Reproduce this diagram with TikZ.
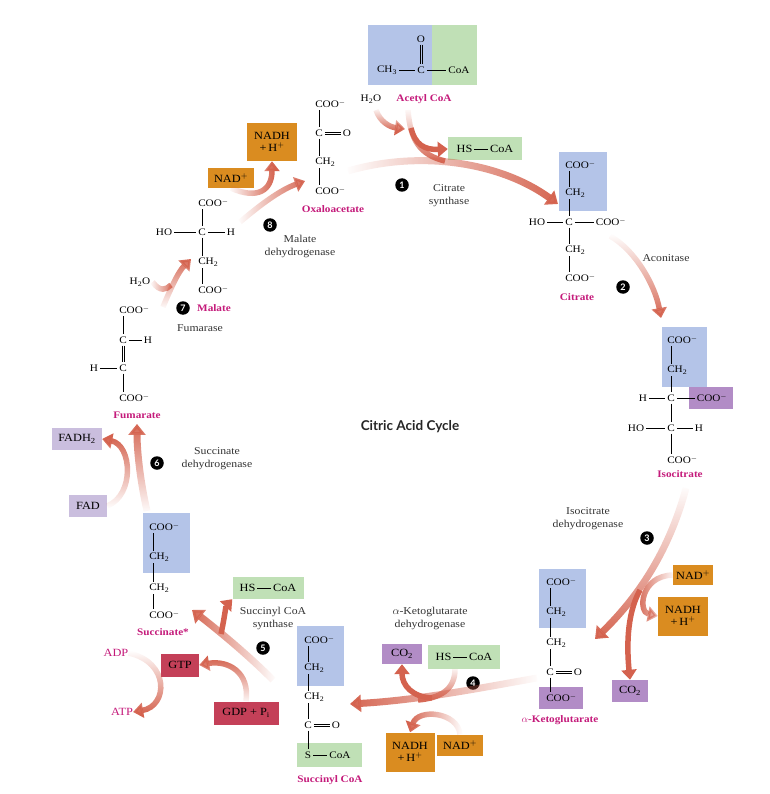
\documentclass[tikz,border=0pt]{standalone}
\usepackage{fontspec}
\setmainfont{Liberation Serif}[FakeStretch=1.12]
\setsansfont{Lato}
\usetikzlibrary{arrows.meta,fadings}

\definecolor{arrowc}{RGB}{212,98,78}
\definecolor{bluefill}{RGB}{180,196,232}
\definecolor{greenfill}{RGB}{192,224,182}
\definecolor{purplefill}{RGB}{178,140,198}
\definecolor{lavfill}{RGB}{202,190,222}
\definecolor{orangefill}{RGB}{218,140,32}
\definecolor{redfill}{RGB}{196,64,88}
\definecolor{namec}{RGB}{196,26,122}

\newcommand\coo{C\rlap{OO$^-$}}
\newcommand\chtwo{C\rlap{H\textsubscript{2}}}
\newcommand\bondrule{\,\rule[0.6ex]{14pt}{0.5pt}\,}
% double bonds, drawn as two thin lines
\newcommand\hdbond[2]{%
  \draw[bond] ([yshift=1.2pt]#1.east) -- ([yshift=1.2pt]#2.west);
  \draw[bond] ([yshift=-1.2pt]#1.east) -- ([yshift=-1.2pt]#2.west);}
\newcommand\vdbond[2]{%
  \draw[bond] ([xshift=1.2pt]#1.south) -- ([xshift=1.2pt]#2.north);
  \draw[bond] ([xshift=-1.2pt]#1.south) -- ([xshift=-1.2pt]#2.north);}

\tikzset{
  atom/.style={inner sep=2pt, font=\fontsize{10}{11}\selectfont},
  bond/.style={line width=0.5pt},
  molname/.style={text=namec, font=\fontsize{10}{11}\selectfont\bfseries},
  enzyme/.style={align=center, font=\fontsize{10.5}{13}\selectfont, text=black!80},
  stepnum/.style={circle, fill=black, text=white, inner sep=0pt, minimum size=13.5pt, font=\sffamily\bfseries\fontsize{9}{9}\selectfont},
  cofactor/.style={inner sep=0pt, align=center, font=\fontsize{11}{12}\selectfont},
  flow/.style={draw=arrowc, line width=5.5pt, -{Triangle[length=10pt,width=15pt]}},
  bigflow/.style={flow, line width=7pt, -{Triangle[length=11pt,width=17pt]}},
  joinflow/.style={draw=arrowc, line width=5.5pt, path fading=#1},
}

\begin{document}
\begin{tikzpicture}[x=1pt,y=-1pt]
\useasboundingbox (0,0) rectangle (769,794);
%\draw[help lines,step=50] (0,0) grid (769,794);

% acetyl CoA
\fill[bluefill] (368,25) rectangle (432,85);
\fill[greenfill] (432,25) rectangle (477,85);
\node[atom] (acc) at (421,70) {C};
\node[atom] (acch) at (387,70) {CH\textsubscript{3}};
\node[atom] (acco) at (459,70) {CoA};
\node[atom] (aco) at (421,39) {O};
\draw[bond] (acch) -- (acc);
\draw[bond] (acc) -- (acco);
\vdbond{aco}{acc}
\node[atom] (wat1) at (371,99) {H\textsubscript{2}O};
\node[molname] (acname) at (424,99) {Acetyl CoA};
\node[cofactor, fill=greenfill, minimum width=74pt, minimum height=23pt] (hsa) at (485,149) {HS\bondrule CoA};

% oxaloacetate
\node[atom] (oa1) at (319,104) {\coo};
\node[atom] (oa2) at (319,133) {C};
\node[atom] (oao) at (347,133) {O};
\node[atom] (oa3) at (319,162) {\chtwo};
\node[atom] (oa4) at (319,191) {\coo};
\draw[bond] (oa1) -- (oa2);
\hdbond{oa2}{oao}
\draw[bond] (oa2) -- (oa3);
\draw[bond] (oa3) -- (oa4);
\node[molname] (oaname) at (333,209) {Oxaloacetate};

% citrate
\fill[bluefill] (559,152) rectangle (607,211);
\node[atom] (ci1) at (569,165) {\coo};
\node[atom] (ci2) at (569,193) {\chtwo};
\node[atom] (ci3) at (569,222) {C};
\node[atom] (ciho) at (537,222) {HO};
\node[atom] (cir) at (611,222) {COO$^-$};
\node[atom] (ci4) at (569,250) {\chtwo};
\node[atom] (ci5) at (569,278) {\coo};
\draw[bond] (ci1) -- (ci2);
\draw[bond] (ci2) -- (ci3);
\draw[bond] (ciho) -- (ci3);
\draw[bond] (ci3) -- (cir);
\draw[bond] (ci3) -- (ci4);
\draw[bond] (ci4) -- (ci5);
\node[molname] (ciname) at (577,297) {Citrate};

% isocitrate
\fill[bluefill] (662,327) rectangle (707,387);
\fill[purplefill] (689,387) rectangle (733,409);
\node[atom] (ic1) at (671,340) {\coo};
\node[atom] (ic2) at (671,370) {\chtwo};
\node[atom] (ic3) at (671,398) {C};
\node[atom] (ich) at (643,398) {H};
\node[atom] (icr) at (712,398) {COO$^-$};
\node[atom] (ic4) at (671,428) {C};
\node[atom] (icho) at (636,428) {HO};
\node[atom] (ich2) at (699,428) {H};
\node[atom] (ic5) at (671,460) {\coo};
\draw[bond] (ic1) -- (ic2);
\draw[bond] (ic2) -- (ic3);
\draw[bond] (ich) -- (ic3);
\draw[bond] (ic3) -- (icr);
\draw[bond] (ic3) -- (ic4);
\draw[bond] (icho) -- (ic4);
\draw[bond] (ic4) -- (ich2);
\draw[bond] (ic4) -- (ic5);
\node[molname] (icname) at (680,474) {Isocitrate};

% alpha-ketoglutarate
\fill[bluefill] (539,569) rectangle (586,628);
\fill[purplefill] (539,687) rectangle (583,709);
\node[atom] (kg1) at (550,582) {\coo};
\node[atom] (kg2) at (550,612) {\chtwo};
\node[atom] (kg3) at (550,643) {\chtwo};
\node[atom] (kg4) at (550,672) {C};
\node[atom] (kgo) at (578,672) {O};
\node[atom] (kg5) at (550,698) {\coo};
\draw[bond] (kg1) -- (kg2);
\draw[bond] (kg2) -- (kg3);
\draw[bond] (kg3) -- (kg4);
\hdbond{kg4}{kgo}
\draw[bond] (kg4) -- (kg5);
\node[molname] (kgname) at (560,720) {$\alpha$-Ketoglutarate};

% succinyl CoA
\fill[bluefill] (297,626) rectangle (344,686);
\fill[greenfill] (297,743) rectangle (362,767);
\node[atom] (sc1) at (308,640) {\coo};
\node[atom] (sc2) at (308,668) {\chtwo};
\node[atom] (sc3) at (308,697) {\chtwo};
\node[atom] (sc4) at (308,725) {C};
\node[atom] (sco) at (336,725) {O};
\node[atom] (sc5) at (308,755) {S};
\node[atom] (scoa) at (340,755) {CoA};
\draw[bond] (sc1) -- (sc2);
\draw[bond] (sc2) -- (sc3);
\draw[bond] (sc3) -- (sc4);
\hdbond{sc4}{sco}
\draw[bond] (sc4) -- (sc5);
\draw[bond] (sc5) -- (scoa);
\node[molname] (scname) at (330,780) {Succinyl CoA};

% succinate
\fill[bluefill] (143,513) rectangle (190,573);
\node[atom] (su1) at (153,527) {\coo};
\node[atom] (su2) at (153,557) {\chtwo};
\node[atom] (su3) at (153,588) {\chtwo};
\node[atom] (su4) at (153,615) {\coo};
\draw[bond] (su1) -- (su2);
\draw[bond] (su2) -- (su3);
\draw[bond] (su3) -- (su4);
\node[molname] (suname) at (163,632) {Succinate*};

% fumarate
\node[atom] (fu1) at (123,310) {\coo};
\node[atom] (fu2) at (123,340) {C};
\node[atom] (fuh1) at (148,340) {H};
\node[atom] (fu3) at (123,368) {C};
\node[atom] (fuh2) at (94,368) {H};
\node[atom] (fu4) at (123,398) {\coo};
\draw[bond] (fu1) -- (fu2);
\draw[bond] (fu2) -- (fuh1);
\vdbond{fu2}{fu3}
\draw[bond] (fuh2) -- (fu3);
\draw[bond] (fu3) -- (fu4);
\node[molname] (funame) at (137,415) {Fumarate};

% malate
\node[atom] (ma1) at (202,203) {\coo};
\node[atom] (ma2) at (202,232) {C};
\node[atom] (maho) at (164,232) {HO};
\node[atom] (mah) at (231,232) {H};
\node[atom] (ma3) at (202,262) {\chtwo};
\node[atom] (ma4) at (202,290) {\coo};
\draw[bond] (ma1) -- (ma2);
\draw[bond] (maho) -- (ma2);
\draw[bond] (ma2) -- (mah);
\draw[bond] (ma2) -- (ma3);
\draw[bond] (ma3) -- (ma4);
\node[molname] (maname) at (214,308) {Malate};
\node[atom] (wat7) at (140,282) {H\textsubscript{2}O};

% cofactors
\node[cofactor, fill=orangefill, minimum width=50pt, minimum height=38pt] (nadh8) at (272,142) {NADH\\+\,H$^+$};
\node[cofactor, fill=orangefill, minimum width=46pt, minimum height=20pt] (nad8) at (231,178) {NAD$^+$};
\node[cofactor, fill=lavfill, minimum width=50pt, minimum height=22pt] (fadh) at (77,439) {FADH\textsubscript{2}};
\node[cofactor, fill=lavfill, minimum width=38pt, minimum height=22pt] (fad) at (88,506) {FAD};
\node[cofactor, fill=greenfill, minimum width=71pt, minimum height=22pt] (hsb) at (268,588) {HS\bondrule CoA};
\node[cofactor, fill=redfill, minimum width=38pt, minimum height=23pt] (gtp) at (180,665) {GTP};
\node[cofactor, fill=redfill, minimum width=65pt, minimum height=23pt] (gdp) at (246,713) {GDP + P$_\mathrm{i}$};
\node[cofactor, text=namec] (adp) at (116,653) {ADP};
\node[cofactor, text=namec] (atp) at (122,712) {ATP};
\node[cofactor, fill=purplefill, minimum width=40pt, minimum height=20pt] (co2d) at (402,654) {CO\textsubscript{2}};
\node[cofactor, fill=greenfill, minimum width=72pt, minimum height=24pt] (hsc) at (464,657) {HS\bondrule CoA};
\node[cofactor, fill=orangefill, minimum width=49pt, minimum height=39pt] (nadh4) at (410,752) {NADH\\+\,H$^+$};
\node[cofactor, fill=orangefill, minimum width=46pt, minimum height=21pt] (nad4) at (460,745) {NAD$^+$};
\node[cofactor, fill=purplefill, minimum width=36pt, minimum height=22pt] (co2c) at (630,691) {CO\textsubscript{2}};
\node[cofactor, fill=orangefill, minimum width=40pt, minimum height=20pt] (nad3) at (693,575) {NAD$^+$};
\node[cofactor, fill=orangefill, minimum width=50pt, minimum height=39pt] (nadh3) at (683,616) {NADH\\+\,H$^+$};

% enzymes and steps
\node[stepnum] (s1) at (402,185) {1};
\node[enzyme] (e1) at (449,196) {Citrate\\synthase};
\node[stepnum] (s2) at (623,287) {2};
\node[enzyme] (e2) at (666,258) {Aconitase};
\node[stepnum] (s3) at (647,538) {3};
\node[enzyme] (e3) at (588,519) {Isocitrate\\dehydrogenase};
\node[stepnum] (s4) at (473,683) {4};
\node[enzyme] (e4) at (430,618) {$\alpha$-Ketoglutarate\\dehydrogenase};
\node[stepnum] (s5) at (263,648) {5};
\node[enzyme] (e5) at (273,618) {Succinyl CoA\\synthase};
\node[stepnum] (s6) at (157,463) {6};
\node[enzyme] (e6) at (217,459) {Succinate\\dehydrogenase};
\node[stepnum] (s7) at (183,308) {7};
\node[enzyme] (e7) at (200,328) {Fumarase};
\node[stepnum] (s8) at (270,225) {8};
\node[enzyme] (e8) at (300,246) {Malate\\dehydrogenase};
\node[font=\sffamily\bfseries\fontsize{13.5}{15}\selectfont, text=black!85] (title) at (410,427) {Citric Acid Cycle};

% arrow ends
\coordinate (a1s) at (348,171);
\coordinate (a1e) at (558,204);
\coordinate (a1m) at (445,161);
\coordinate (acs) at (408,110);
\coordinate (acb) at (411,128);
\coordinate (w1s) at (376,110);
\coordinate (w1e) at (405,129);
\coordinate (a2s) at (610,236);
\coordinate (a2e) at (661,318);
\coordinate (a3s) at (686,488);
\coordinate (a3e) at (595,639);
\coordinate (a3b) at (640,590);
\coordinate (a4s) at (537,678);
\coordinate (a4e) at (350,704);
\coordinate (a4h) at (455,669);
\coordinate (a4m) at (418,700);
\coordinate (a4c) at (432,698);
\coordinate (a5s) at (273,680);
\coordinate (a5e) at (192,610);
\coordinate (a5b) at (221,634);
\coordinate (a6s) at (147,511);
\coordinate (a6e) at (137,424);
\coordinate (a7s) at (163,307);
\coordinate (a7e) at (191,259);
\coordinate (a7m) at (171,285);
\coordinate (a8s) at (240,222);
\coordinate (a8e) at (305,181);

% step 1
\draw[bigflow, path fading=west] (a1s) .. controls (420,150) and (500,162) .. (a1e);
\draw[joinflow=north] (acs) .. controls (410,140) and (420,155) .. (a1m);
\draw[flow] (acb) .. controls (415,145) and (425,150) .. (hsa.west);
\draw[flow, path fading=north] (w1s) .. controls (380,122) and (390,127) .. (w1e);
% step 2
\draw[flow, path fading=north] (a2s) .. controls (635,250) and (655,285) .. (a2e);
% step 3
\draw[bigflow, path fading=north] (a3s) .. controls (668,555) and (635,600) .. (a3e);
\draw[flow] (a3b) .. controls (626,615) and (627,650) .. (co2c.north);
\draw[flow, path fading=east] (nad3.west) .. controls (640,576) and (638,612) .. (nadh3.west);
% step 4
\draw[bigflow, path fading=east] (a4s) .. controls (480,688) and (420,700) .. (a4e);
\draw[joinflow=north] (a4h) .. controls (455,690) and (440,698) .. (a4m);
\draw[flow] (a4c) .. controls (412,697) and (402,685) .. (co2d.south);
\draw[flow, path fading=east] (nad4.north) .. controls (458,712) and (418,708) .. (nadh4.north);
% step 5
\draw[bigflow, path fading=east] (a5s) .. controls (245,652) and (215,628) .. (a5e);
\draw[flow] (a5b) .. controls (224,620) and (226,606) .. (hsb.south west);
\draw[flow, path fading=south] (gdp.north) .. controls (250,672) and (228,660) .. (gtp.east);
\draw[flow, path fading=north] (adp.east) .. controls (170,662) and (168,706) .. (atp.east);
% step 6
\draw[bigflow, path fading=south] (a6s) .. controls (140,480) and (137,450) .. (a6e);
\draw[flow, path fading=south] (fad.east) .. controls (135,495) and (132,445) .. (fadh.east);
% step 7
\draw[flow, path fading=south] (a7s) .. controls (170,290) and (178,272) .. (a7e);
\draw[joinflow=west] (wat7.east) .. controls (160,292) and (166,290) .. (a7m);
% step 8
\draw[flow, path fading=west] (a8s) .. controls (260,205) and (280,190) .. (a8e);
\draw[flow, path fading=west] (nad8.south) .. controls (258,200) and (272,190) .. (nadh8.south);
\end{tikzpicture}
\end{document}
